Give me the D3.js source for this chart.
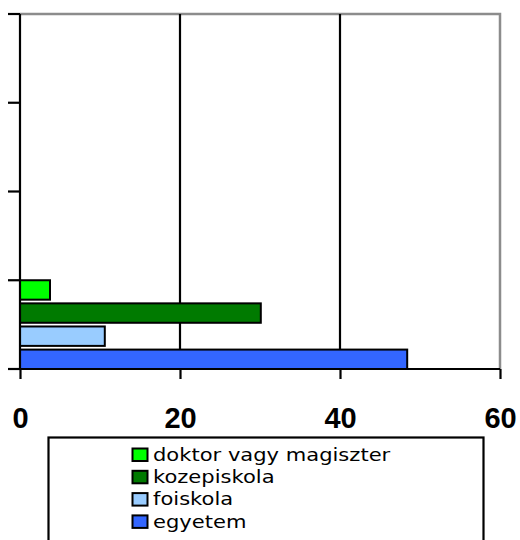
<!DOCTYPE html>
<html>
<head>
<meta charset="utf-8">
<script src="https://cdn.jsdelivr.net/npm/d3@7"></script>
<style>
  body { margin: 0; background: #fff; }
  svg { display: block; }
</style>
</head>
<body>
<div id="chart"></div>
<script>
// categories on the vertical axis (only the first one holds data)
var categories = ["1", "2", "3", "4"];
// series, bottom to top inside a category
var seriesNames = ["egyetem", "foiskola", "kozepiskola", "doktor vagy magiszter"];
var seriesColors = ["#3366ff", "#99ccff", "#007a00", "#00ff00"];
var seriesValues = [
  [48.4, null, null, null],
  [10.6, null, null, null],
  [30.1, null, null, null],
  [3.75, null, null, null]
];
var xTicks = [0, 20, 40, 60];

var width = 520, height = 540;
var m = { left: 20, right: 500, top: 14, bottom: 369 };

var svg = d3.select('#chart').append('svg')
  .attr('width', width)
  .attr('height', height);

var x = d3.scaleLinear().domain([0, 60]).range([m.left, m.right]);
// first category at the bottom
var y = d3.scaleBand().domain(categories).range([m.bottom, m.top]);
var ySeries = d3.scaleBand()
  .domain(d3.range(seriesNames.length))
  .range([y.bandwidth(), 0])
  .paddingInner(0.16);

// plot frame: grey top and right
svg.append('path')
  .attr('d', 'M' + m.left + ',' + m.top + 'H' + m.right + 'V' + m.bottom)
  .attr('fill', 'none')
  .attr('stroke', '#8c8c8c')
  .attr('stroke-width', 2.5);

// vertical gridlines
svg.selectAll('line.grid')
  .data(xTicks.filter(function (d) { return d > 0 && d < 60; }))
  .enter().append('line')
    .attr('class', 'grid')
    .attr('x1', function (d) { return x(d); })
    .attr('x2', function (d) { return x(d); })
    .attr('y1', m.top)
    .attr('y2', m.bottom)
    .attr('stroke', '#000')
    .attr('stroke-width', 2.2);

// bars
var bars = [];
seriesValues.forEach(function (vals, s) {
  vals.forEach(function (v, c) {
    if (v != null) bars.push({ s: s, cat: categories[c], value: v });
  });
});

svg.selectAll('rect.bar')
  .data(bars)
  .enter().append('rect')
    .attr('class', 'bar')
    .attr('x', x(0))
    .attr('y', function (d) { return y(d.cat) + ySeries(d.s); })
    .attr('width', function (d) { return x(d.value) - x(0); })
    .attr('height', ySeries.bandwidth())
    .attr('fill', function (d) { return seriesColors[d.s]; })
    .attr('stroke', '#000')
    .attr('stroke-width', 2);

// x axis
var xAxis = svg.append('g')
  .attr('transform', 'translate(0,' + m.bottom + ')')
  .call(d3.axisBottom(x).tickValues(xTicks).tickSize(10).tickPadding(8).tickSizeOuter(0));
xAxis.select('.domain').attr('stroke', '#000').attr('stroke-width', 2.2)
  .attr('d', 'M' + (m.left - 12) + ',0H' + m.right);
xAxis.selectAll('.tick line').attr('stroke', '#000').attr('stroke-width', 2.2);
xAxis.selectAll('.tick text')
  .attr('fill', '#000')
  .attr('dy', null)
  .attr('y', 59)
  .style('font-family', 'Liberation Sans, Arial, sans-serif')
  .style('font-size', '29px')
  .style('font-weight', 'bold');

// y axis
var yTickPos = categories.map(function (c) { return y(c); }).concat([m.bottom]);
var yAxis = svg.append('g').attr('transform', 'translate(' + m.left + ',0)');
yAxis.append('line')
  .attr('y1', m.top).attr('y2', m.bottom)
  .attr('stroke', '#000').attr('stroke-width', 2.2);
yAxis.selectAll('line.tick')
  .data(yTickPos)
  .enter().append('line')
    .attr('class', 'tick')
    .attr('x1', -12).attr('x2', 0)
    .attr('y1', function (d) { return d; })
    .attr('y2', function (d) { return d; })
    .attr('stroke', '#000').attr('stroke-width', 2.2);

// legend
var legend = svg.append('g');
legend.append('rect')
  .attr('x', 48.5).attr('y', 437.5)
  .attr('width', 435).attr('height', 120)
  .attr('fill', '#fff')
  .attr('stroke', '#000')
  .attr('stroke-width', 2.2);

var legendOrder = d3.range(seriesNames.length).reverse();
var item = legend.selectAll('g.item')
  .data(legendOrder)
  .enter().append('g')
    .attr('class', 'item')
    .attr('transform', function (d, i) { return 'translate(132,' + (454.5 + i * 22.3) + ')'; });

item.append('rect')
  .attr('x', 0.5).attr('y', -6)
  .attr('width', 15).attr('height', 12.5)
  .attr('fill', function (d) { return seriesColors[d]; })
  .attr('stroke', '#000')
  .attr('stroke-width', 2);

item.append('text')
  .attr('transform', 'translate(21,0) scale(1.17,1)')
  .attr('dy', '0.35em')
  .style('font-family', 'DejaVu Sans, Verdana, sans-serif')
  .style('font-size', '18px')
  .text(function (d) { return seriesNames[d]; });
</script>
</body>
</html>
